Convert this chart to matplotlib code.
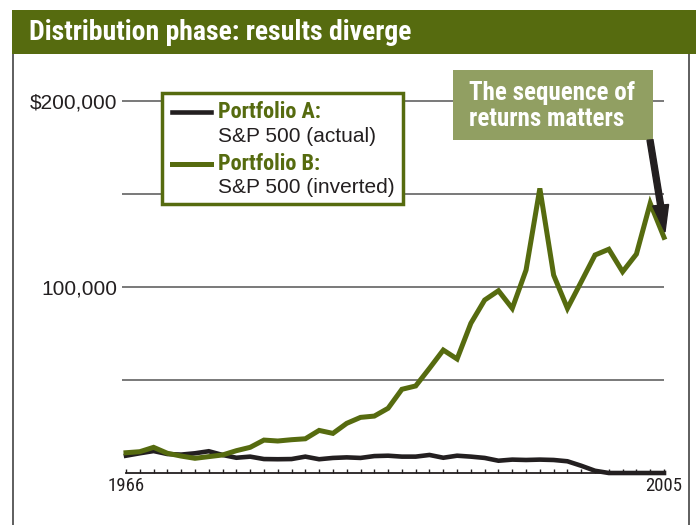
import matplotlib
matplotlib.use("Agg")
import matplotlib.pyplot as plt
from matplotlib.patches import Rectangle, FancyArrow
from matplotlib.lines import Line2D

# ---------------- data ----------------
years = list(range(1966, 2006))
portfolio_a = [9300, 10600, 11800, 10200, 9900, 10600, 11700, 9700, 8200, 8800,
               7500, 7400, 7500, 8800, 7400, 8100, 8400, 8100, 9100, 9300,
               8800, 8800, 9700, 8200, 9300, 8800, 8100, 6600, 7200, 7000,
               7200, 7000, 6300, 3900, 1200, 0, 0, 0, 0, 0]
portfolio_b = [10900, 11450, 13800, 10600, 9100, 7900, 8800, 9700, 12000, 13800,
               17700, 17200, 17900, 18400, 22900, 21300, 26700, 29900, 30600, 34800,
               45000, 46800, 56300, 66100, 61300, 80500, 93000, 98000, 88500, 109100,
               153000, 106400, 88500, 102800, 117200, 120300, 108200, 117700, 145000, 126700]
grid_values = [50000, 100000, 150000, 200000]
ytick_values = [100000, 200000]
ytick_labels = ["100,000", "$200,000"]
xtick_labels = ["1966"] + [""] * 38 + ["2005"]

title = "Distribution phase: results diverge"
legend_a = ("Portfolio A:", "S&P 500 (actual)")
legend_b = ("Portfolio B:", "S&P 500 (inverted)")
callout = "The sequence of\nreturns matters"

# ---------------- style ----------------
W, H = 696, 525
OLIVE = "#566b0f"
LIGHT_OLIVE = "#919f62"
BLACK = "#231f20"
GRID = "#6e6e6e"
NARROW = ["Roboto Condensed", "Archivo Narrow", "Fira Sans Condensed",
          "Encode Sans Semi Condensed", "Saira SemiCondensed", "DejaVu Sans"]
SANS = ["Liberation Sans", "DejaVu Sans"]

fig = plt.figure(figsize=(W / 100, H / 100), dpi=100)
fig.patch.set_facecolor("white")


def fx(x):
    return x / W


def fy(y):
    return 1 - y / H


# main axes: x 1966 -> px 126, 2005 -> px 664 ; y 0 -> px 473, 200000 -> px 101
ax = fig.add_axes([fx(126), fy(473), (664 - 126) / W, (473 - 101) / H])
ax.set_xlim(1966, 2005)
ax.set_ylim(0, 200000)
ax.patch.set_alpha(0)

ax.hlines(grid_values, 1965.72, 2005, colors=GRID, linewidth=1.3, clip_on=False, zorder=1)

ax.plot(years, portfolio_a, color=BLACK, linewidth=3.3, solid_joinstyle="miter",
        clip_on=False, zorder=3)
ax.plot(years, portfolio_b, color=OLIVE, linewidth=3.6, solid_joinstyle="miter",
        clip_on=False, zorder=4)

for s in ["top", "left", "right"]:
    ax.spines[s].set_visible(False)
ax.spines["bottom"].set_linewidth(1.3)
ax.spines["bottom"].set_color(BLACK)

ax.set_xticks(years)
ax.set_xticklabels(xtick_labels, fontfamily=NARROW, fontsize=13.5, color=BLACK)
ax.tick_params(axis="x", direction="in", length=3.2, width=1.0, color=BLACK, pad=3)

ax.set_yticks(ytick_values)
ax.set_yticklabels(ytick_labels, fontfamily=SANS, fontsize=15, color=BLACK)
ax.tick_params(axis="y", length=0, pad=6)

# ---------------- frame and title bar ----------------
fig.add_artist(Line2D([fx(13), fx(13)], [fy(53), fy(525)], color="#333333", linewidth=1.1))
fig.add_artist(Line2D([fx(689), fx(689)], [fy(53), fy(525)], color="#333333", linewidth=1.1))
fig.add_artist(Rectangle((fx(12), fy(54)), fx(696 - 12), (54 - 10) / H,
                         facecolor=OLIVE, edgecolor="none", zorder=5))
fig.text(fx(29), fy(33), title, fontfamily=NARROW, fontweight="bold", fontsize=20,
         color="white", va="center", ha="left", zorder=6)

# ---------------- legend ----------------
fig.add_artist(Rectangle((fx(162), fy(204)), (403 - 162) / W, (204 - 93) / H,
                         facecolor="white", edgecolor=OLIVE, linewidth=2.5, zorder=5))
fig.add_artist(Line2D([fx(172), fx(211)], [fy(112), fy(112)], color=BLACK,
                      linewidth=3.3, zorder=6))
fig.add_artist(Line2D([fx(172), fx(211)], [fy(164), fy(164)], color=OLIVE,
                      linewidth=3.6, zorder=6))
fig.text(fx(218), fy(112), legend_a[0], fontfamily=NARROW, fontweight="bold",
         fontsize=16, color=OLIVE, va="center", ha="left", zorder=6)
fig.text(fx(218), fy(137), legend_a[1], fontfamily=SANS, fontsize=15,
         color=BLACK, va="center", ha="left", zorder=6)
fig.text(fx(218), fy(164), legend_b[0], fontfamily=NARROW, fontweight="bold",
         fontsize=16, color=OLIVE, va="center", ha="left", zorder=6)
fig.text(fx(218), fy(188), legend_b[1], fontfamily=SANS, fontsize=15,
         color=BLACK, va="center", ha="left", zorder=6)

# ---------------- callout ----------------
fig.add_artist(Rectangle((fx(453), fy(140)), (653 - 453) / W, (140 - 70) / H,
                         facecolor=LIGHT_OLIVE, edgecolor="none", zorder=5))
fig.text(fx(469), fy(106), callout, fontfamily=NARROW, fontweight="bold",
         fontsize=18, color="white", va="center", ha="left", linespacing=1.1,
         zorder=6)
arrow = FancyArrow(fx(650), fy(140), fx(665 - 650), fy(232) - fy(140),
                   width=4.5 / H, head_width=16 / W, head_length=27 / H,
                   length_includes_head=True, color=BLACK, transform=fig.transFigure,
                   zorder=7)
fig.add_artist(arrow)

fig.savefig("out.png", dpi=100, facecolor="white")
